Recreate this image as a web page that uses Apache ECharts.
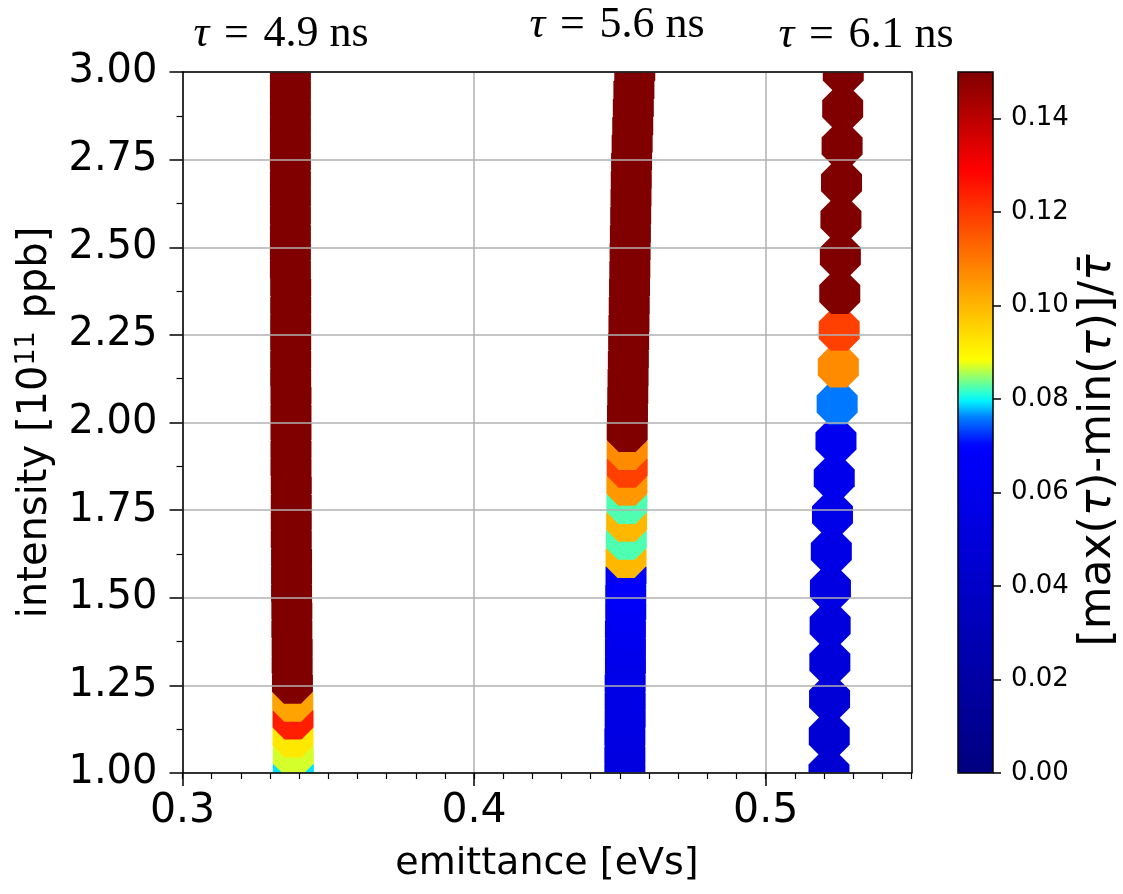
<!DOCTYPE html>
<html>
<head>
<meta charset="utf-8">
<script src="https://cdn.jsdelivr.net/npm/echarts@6/dist/echarts.min.js"></script>
<style>
html,body{margin:0;padding:0;background:#fff;}
#chart{width:1123px;height:894px;}
</style>
</head>
<body>
<div id="chart"></div>
<script>
// ---------- data ----------
const intensity40 = [1.000, 1.051, 1.103, 1.154, 1.205, 1.256, 1.308, 1.359, 1.410, 1.462,
  1.513, 1.564, 1.615, 1.667, 1.718, 1.769, 1.821, 1.872, 1.923, 1.974,
  2.026, 2.077, 2.128, 2.179, 2.231, 2.282, 2.333, 2.385, 2.436, 2.487,
  2.538, 2.590, 2.641, 2.692, 2.744, 2.795, 2.846, 2.897, 2.949, 3.000];
const intensity20 = [1.000, 1.105, 1.211, 1.316, 1.421, 1.526, 1.632, 1.737, 1.842, 1.947,
  2.053, 2.158, 2.263, 2.368, 2.474, 2.579, 2.684, 2.789, 2.895, 3.000];

// tau = 4.9 ns
const emittA = [0.3380, 0.3380, 0.3379, 0.3379, 0.3378, 0.3377, 0.3376, 0.3376, 0.3375, 0.3375,
  0.3374, 0.3374, 0.3374, 0.3373, 0.3373, 0.3373, 0.3373, 0.3372, 0.3372, 0.3372,
  0.3372, 0.3372, 0.3371, 0.3371, 0.3371, 0.3371, 0.3371, 0.3371, 0.3370, 0.3370,
  0.3370, 0.3370, 0.3370, 0.3370, 0.3370, 0.3370, 0.3370, 0.3370, 0.3370, 0.3370];
const spreadA = [0.079, 0.087, 0.092, 0.124, 0.103, 0.15, 0.15, 0.15, 0.15, 0.15,
  0.15, 0.15, 0.15, 0.15, 0.15, 0.15, 0.15, 0.15, 0.15, 0.15,
  0.15, 0.15, 0.15, 0.15, 0.15, 0.15, 0.15, 0.15, 0.15, 0.15,
  0.15, 0.15, 0.15, 0.15, 0.15, 0.15, 0.15, 0.15, 0.15, 0.15];

// tau = 5.6 ns
const emittB = [0.4517, 0.4517, 0.4517, 0.4518, 0.4518, 0.4518, 0.4519, 0.4519, 0.4519, 0.4520,
  0.4520, 0.4521, 0.4521, 0.4522, 0.4523, 0.4524, 0.4524, 0.4525, 0.4525, 0.4525,
  0.4526, 0.4527, 0.4528, 0.4529, 0.4530, 0.4531, 0.4532, 0.4533, 0.4534, 0.4535,
  0.4536, 0.4537, 0.4538, 0.4539, 0.4540, 0.4542, 0.4544, 0.4546, 0.4548, 0.4551];
const spreadB = [0.052, 0.053, 0.054, 0.055, 0.056, 0.057, 0.058, 0.060, 0.062, 0.064,
  0.066, 0.068, 0.0997, 0.0825, 0.0997, 0.0825, 0.1048, 0.1188, 0.1067, 0.15,
  0.15, 0.15, 0.15, 0.15, 0.15, 0.15, 0.15, 0.15, 0.15, 0.15,
  0.15, 0.15, 0.15, 0.15, 0.15, 0.15, 0.15, 0.15, 0.15, 0.15];

// tau = 6.1 ns
const emittC = [0.5217, 0.5218, 0.5219, 0.5220, 0.5221, 0.5222, 0.5225, 0.5229, 0.5235, 0.5241,
  0.5245, 0.5249, 0.5252, 0.5254, 0.5256, 0.5258, 0.5260, 0.5262, 0.5264, 0.5266];
const spreadC = [0.046, 0.047, 0.048, 0.050, 0.052, 0.054, 0.056, 0.058, 0.060, 0.062,
  0.0758, 0.1067, 0.1188, 0.15, 0.15, 0.15, 0.15, 0.15, 0.15, 0.15];

const seriesNames = ['τ = 4.9 ns', 'τ = 5.6 ns', 'τ = 6.1 ns'];
const tauValues = ['4.9', '5.6', '6.1'];
const cbTicks = [0.00, 0.02, 0.04, 0.06, 0.08, 0.10, 0.12, 0.14];
const xTicks = [0.3, 0.4, 0.5];

// ---------- styling helpers ----------
const cmapStops = [
  [0.000, [0, 0, 128]],
  [0.070, [0, 0, 255]],
  [0.0762, [0, 128, 255]],
  [0.0799, [0, 255, 255]],
  [0.0884, [255, 255, 0]],
  [0.129, [255, 0, 0]],
  [0.150, [128, 0, 0]]
];
function cmap(v) {
  for (let k = 0; k < cmapStops.length - 1; k++) {
    const a = cmapStops[k], b = cmapStops[k + 1];
    if (v <= b[0]) {
      const t = (v - a[0]) / (b[0] - a[0]);
      const c = a[1].map((x, j) => Math.round(x + (b[1][j] - x) * t));
      return 'rgb(' + c.join(',') + ')';
    }
  }
  return 'rgb(128,0,0)';
}
const cmapColors = [];
for (let k = 0; k <= 300; k++) cmapColors.push(cmap(0.15 * k / 300));

const MR = 20.5;                         // marker half-size (px)
const MS = MR * Math.tan(Math.PI / 8);   // half edge of the octagon
function octagonItem(params, api) {
  const c = api.coord([api.value(0), api.value(1)]);
  const pts = [
    [c[0] - MS, c[1] - MR], [c[0] + MS, c[1] - MR], [c[0] + MR, c[1] - MS], [c[0] + MR, c[1] + MS],
    [c[0] + MS, c[1] + MR], [c[0] - MS, c[1] + MR], [c[0] - MR, c[1] + MS], [c[0] - MR, c[1] - MS]
  ];
  return {type: 'polygon', shape: {points: pts}, style: {fill: api.visual('color'), stroke: null}};
}

function mk(emit, inten, spread) { return emit.map((e, i) => [e, inten[i], spread[i]]); }
const dataA = mk(emittA, intensity40, spreadA);
const dataB = mk(emittB, intensity40, spreadB);
const dataC = mk(emittC, intensity20, spreadC);

const FONT = 'DejaVu Sans';
const gridL = 182.5, gridT = 72, gridW = 729, gridH = 701;
const cbL = 958, cbW = 35;

const tauPos = [[281, 34], [617, 25], [866, 35]];
function tauLabel(k) {
  return {type: 'text', x: tauPos[k][0], y: tauPos[k][1], z: 100,
    style: {text: '{t|τ} \u200A=\u200A ' + tauValues[k] + ' ns', textAlign: 'center', textVerticalAlign: 'middle',
      fontFamily: 'Liberation Serif', fontSize: 44, fill: '#000',
      rich: {t: {fontStyle: 'italic', fontFamily: 'Liberation Serif', fontSize: 44}}}};
}

const chart = echarts.init(document.getElementById('chart'), null, {renderer: 'canvas'});
const option = {
  animation: false,
  backgroundColor: '#fff',
  textStyle: {fontFamily: FONT, color: '#000'},
  grid: [
    {left: gridL, top: gridT, width: gridW, height: gridH, containLabel: false},
    {left: cbL, top: gridT, width: cbW, height: gridH, containLabel: false}
  ],
  xAxis: [
    {
      gridIndex: 0, type: 'value', min: 0.3, max: 0.55, interval: 0.1, position: 'bottom', z: 3,
      axisLine: {show: true, onZero: false, lineStyle: {color: '#000', width: 1.5}},
      axisTick: {show: true, inside: false, length: 13, customValues: xTicks, lineStyle: {color: '#000', width: 1.5}},
      axisLabel: {show: true, fontSize: 41, color: '#000', fontFamily: FONT, margin: 18, customValues: xTicks,
        formatter: v => v.toFixed(1)},
      splitLine: {show: true, lineStyle: {color: '#b0b0b0', width: 1.5}},
      name: 'emittance [eVs]', nameLocation: 'middle', nameGap: 72,
      nameTextStyle: {fontSize: 38, color: '#000', fontFamily: FONT}
    },
    {
      gridIndex: 0, type: 'value', min: 0.3, max: 0.55, interval: 0.01, position: 'bottom', z: 3,
      axisLine: {show: false, onZero: false},
      axisTick: {show: true, inside: false, length: 6, lineStyle: {color: '#000', width: 1.2}},
      axisLabel: {show: false}, splitLine: {show: false}
    },
    {
      gridIndex: 0, type: 'value', min: 0.3, max: 0.55, position: 'top', z: 3,
      axisLine: {show: true, onZero: false, lineStyle: {color: '#000', width: 1.5}},
      axisTick: {show: false}, axisLabel: {show: false}, splitLine: {show: false}
    },
    {gridIndex: 1, type: 'value', min: 0, max: 1, show: false}
  ],
  yAxis: [
    {
      gridIndex: 0, type: 'value', min: 1, max: 3, interval: 0.25, position: 'left', z: 3,
      axisLine: {show: true, onZero: false, lineStyle: {color: '#000', width: 1.5}},
      axisTick: {show: true, inside: false, length: 13, lineStyle: {color: '#000', width: 1.5}},
      minorTick: {show: true, splitNumber: 2, length: 6, lineStyle: {color: '#000', width: 1.2}},
      axisLabel: {show: true, fontSize: 40, color: '#000', fontFamily: FONT, margin: 25,
        formatter: v => v.toFixed(2)},
      splitLine: {show: true, lineStyle: {color: '#b0b0b0', width: 1.5}},
      name: 'intensity [10{sup|11} ppb]', nameLocation: 'middle', nameGap: 124, nameRotate: 90,
      nameTextStyle: {fontSize: 40, color: '#000', fontFamily: FONT,
        rich: {sup: {fontSize: 27, color: '#000', fontFamily: FONT, verticalAlign: 'bottom', padding: [0, 0, 18, 0]}}}
    },
    {
      gridIndex: 0, type: 'value', min: 1, max: 3, position: 'right', z: 3,
      axisLine: {show: true, onZero: false, lineStyle: {color: '#000', width: 1.5}},
      axisTick: {show: false}, axisLabel: {show: false}, splitLine: {show: false}
    },
    {
      gridIndex: 1, type: 'value', min: 0, max: 0.15, interval: 0.02, position: 'right', z: 5,
      axisLine: {show: false, onZero: false},
      axisTick: {show: true, inside: false, length: 8, customValues: cbTicks, lineStyle: {color: '#000', width: 1.5}},
      axisLabel: {show: true, fontSize: 26, color: '#000', fontFamily: FONT, margin: 18, customValues: cbTicks,
        formatter: v => v.toFixed(2)},
      splitLine: {show: false},
      name: '[max({i|τ})-min({i|τ})]/{i|τ̄}', nameLocation: 'middle', nameGap: 84, nameRotate: 90,
      nameTextStyle: {fontSize: 44, color: '#000', fontFamily: FONT, padding: [0, 56, 0, 0],
        rich: {i: {fontSize: 44, color: '#000', fontFamily: FONT, fontStyle: 'italic'}}}
    }
  ],
  visualMap: {
    type: 'continuous', min: 0, max: 0.15, dimension: 2, seriesIndex: [0, 1, 2],
    orient: 'vertical', left: cbL, top: gridT, itemWidth: cbW, itemHeight: gridH,
    calculable: false, realtime: false, hoverLink: false, showLabel: false, text: null,
    padding: 0, inRange: {color: cmapColors}
  },
  series: [dataA, dataB, dataC].map((d, k) => ({
    name: seriesNames[k], type: 'custom', xAxisIndex: 0, yAxisIndex: 0,
    data: d, encode: {x: 0, y: 1}, clip: true, silent: true,
    renderItem: octagonItem
  })),
  graphic: [
    {type: 'rect', z: 100, silent: true,
      shape: {x: cbL, y: gridT, width: cbW, height: gridH},
      style: {fill: null, stroke: '#000', lineWidth: 1.5}},
    tauLabel(0), tauLabel(1), tauLabel(2)
  ]
};
chart.setOption(option);
</script>
</body>
</html>
